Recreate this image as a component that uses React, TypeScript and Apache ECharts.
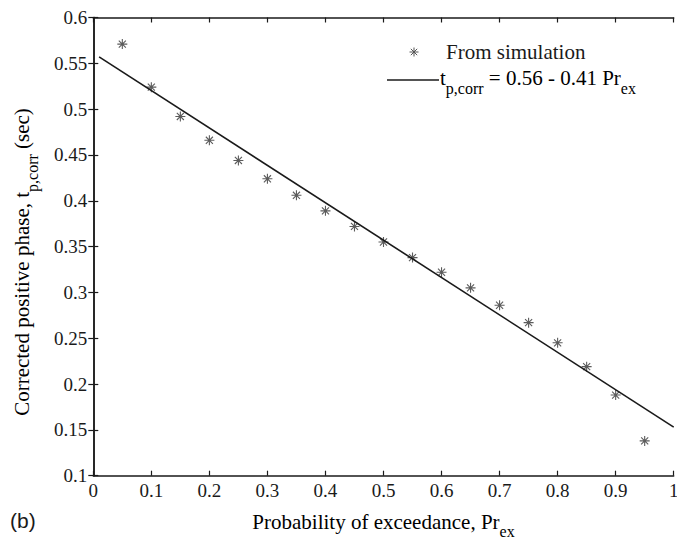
import React, { useEffect, useRef } from "react";
import * as echarts from "echarts";

const xSim = [0.05, 0.1, 0.15, 0.2, 0.25, 0.3, 0.35, 0.4, 0.45, 0.5, 0.55, 0.6, 0.65, 0.7, 0.75, 0.8, 0.85, 0.9, 0.95];
const ySim = [0.571, 0.524, 0.492, 0.466, 0.444, 0.424, 0.406, 0.389, 0.372, 0.355, 0.338, 0.322, 0.305, 0.286, 0.267, 0.245, 0.219, 0.188, 0.138];
const xFit = [0.01, 1];
const yFit = [0.557, 0.153];

const SERIF = "Liberation Serif";
const INK = "#1a1a1a";
const STAR = "path://M0,5L10,5M5,0L5,10M1.46,1.46L8.54,8.54M1.46,8.54L8.54,1.46";

const subRich = (main: number, sub: number, lh: number) => ({
  m: { fontFamily: SERIF, fontSize: main, color: INK, lineHeight: lh, verticalAlign: "middle" as const },
  s: { fontFamily: SERIF, fontSize: sub, color: INK, lineHeight: lh, verticalAlign: "bottom" as const },
});

export default function App() {
  const ref = useRef<HTMLDivElement>(null);
  useEffect(() => {
    if (!ref.current) return;
    const chart = echarts.init(ref.current, null, { renderer: "svg" });
    const axisLine = { show: true, lineStyle: { color: INK, width: 1.5 } };
    const tick = { show: true, inside: true, length: 5, lineStyle: { color: INK, width: 1.2 } };
    const label = { fontFamily: SERIF, fontSize: 19, color: INK };
    const sx = 414, sy = 52, r = 4.5, d = r * 0.7071;
    chart.setOption({
      animation: false,
      backgroundColor: "#fff",
      grid: { left: 93.3, right: 3.3, top: 17.5, bottom: 63.3, containLabel: false, outerBoundsMode: "none" },
      xAxis: [
        { type: "value", min: 0, max: 1, interval: 0.1, position: "bottom", axisLine, axisTick: tick, splitLine: { show: false }, axisLabel: { ...label, margin: 5 } },
        { type: "value", min: 0, max: 1, interval: 0.1, position: "top", axisLine, axisTick: tick, splitLine: { show: false }, axisLabel: { show: false } },
      ],
      yAxis: [
        { type: "value", min: 0.1, max: 0.6, interval: 0.05, position: "left", axisLine, axisTick: tick, splitLine: { show: false }, axisLabel: { ...label, margin: 6 } },
        { type: "value", min: 0.1, max: 0.6, interval: 0.05, position: "right", axisLine, axisTick: tick, splitLine: { show: false }, axisLabel: { show: false } },
      ],
      series: [
        {
          name: "From simulation",
          type: "scatter",
          data: xSim.map((x, i) => [x, ySim[i]]),
          symbol: STAR,
          symbolSize: 10,
          itemStyle: { color: "transparent", borderColor: "#333", borderWidth: 1.1 },
        },
        {
          name: "Fit",
          type: "line",
          data: xFit.map((x, i) => [x, yFit[i]]),
          showSymbol: false,
          lineStyle: { color: INK, width: 1.6 },
        },
      ],
      graphic: [
        {
          type: "group",
          children: [
            { type: "line", shape: { x1: sx - r, y1: sy, x2: sx + r, y2: sy }, style: { stroke: "#555", lineWidth: 1 } },
            { type: "line", shape: { x1: sx, y1: sy - r, x2: sx, y2: sy + r }, style: { stroke: "#555", lineWidth: 1 } },
            { type: "line", shape: { x1: sx - d, y1: sy - d, x2: sx + d, y2: sy + d }, style: { stroke: "#555", lineWidth: 1 } },
            { type: "line", shape: { x1: sx - d, y1: sy + d, x2: sx + d, y2: sy - d }, style: { stroke: "#555", lineWidth: 1 } },
          ],
        },
        {
          type: "text",
          x: 446,
          y: 52,
          style: { text: "From simulation", fontFamily: SERIF, fontSize: 21, fill: INK, align: "left", verticalAlign: "middle" },
        },
        { type: "line", shape: { x1: 387, y1: 80, x2: 439, y2: 80 }, style: { stroke: INK, lineWidth: 1.5 } },
        {
          type: "text",
          x: 440,
          y: 78,
          style: {
            text: "{m|t}{s|p,corr}{m| = 0.56 - 0.41 Pr}{s|ex}",
            rich: subRich(21, 16, 36),
            align: "left",
            verticalAlign: "middle",
          },
        },
        {
          type: "text",
          x: 383.5,
          y: 522,
          style: {
            text: "{m|Probability of exceedance, Pr}{s|ex}",
            rich: subRich(21, 16, 34),
            align: "center",
            verticalAlign: "middle",
          },
        },
        {
          type: "text",
          x: 22,
          y: 262,
          rotation: Math.PI / 2,
          style: {
            text: "{m|Corrected positive phase, t}{s|p,corr}{m| (sec)}",
            rich: subRich(21, 16, 36),
            align: "center",
            verticalAlign: "middle",
          },
        },
        {
          type: "text",
          x: 10,
          y: 520,
          style: { text: "(b)", fontFamily: "Liberation Sans", fontSize: 21, fill: INK, align: "left", verticalAlign: "middle" },
        },
      ],
    });
    return () => chart.dispose();
  }, []);
  return <div ref={ref} style={{ position: "absolute", left: 0, top: 0, width: 677, height: 539 }} />;
}
